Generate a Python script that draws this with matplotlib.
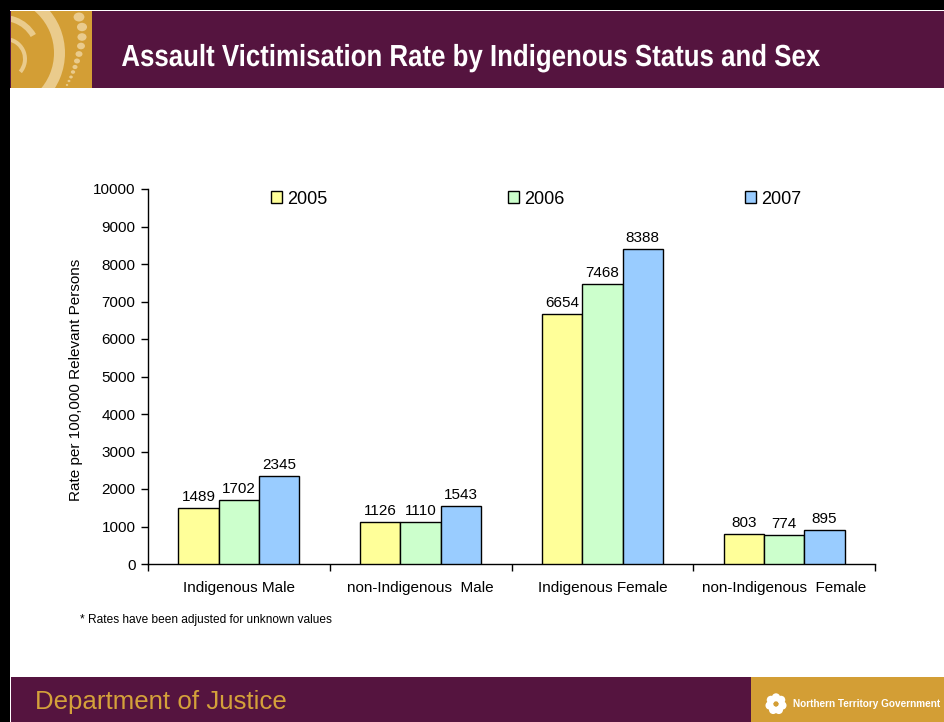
import matplotlib
matplotlib.use("Agg")
import matplotlib.pyplot as plt
import numpy as np
from matplotlib.patches import Rectangle, Wedge, Circle, Ellipse, PathPatch
from matplotlib.textpath import TextPath
from matplotlib.font_manager import FontProperties
from matplotlib.transforms import Affine2D

categories = ["Indigenous Male", "non-Indigenous  Male", "Indigenous Female", "non-Indigenous  Female"]
years = ["2005", "2006", "2007"]
v2005 = [1489, 1126, 6654, 803]
v2006 = [1702, 1110, 7468, 774]
v2007 = [2345, 1543, 8388, 895]
yticks = [0, 1000, 2000, 3000, 4000, 5000, 6000, 7000, 8000, 9000, 10000]
title = "Assault Victimisation Rate by Indigenous Status and Sex"

colors = ["#FFFF99", "#CCFFCC", "#99CCFF"]
PURPLE = "#55143F"
GOLD = "#D39E35"
LIGHT = "#EACB8C"

plt.rcParams['font.family'] = ['Liberation Sans', 'DejaVu Sans']

W, H = 944, 722
fig = plt.figure(figsize=(W / 100, H / 100), dpi=100)
fig.patch.set_facecolor("white")

# full-figure overlay axes in pixel coords (y up)
bg = fig.add_axes([0, 0, 1, 1], zorder=-5)
bg.set_xlim(0, W)
bg.set_ylim(0, H)
bg.axis("off")

def box(x0, y0, x1, y1, color):
    bg.add_patch(Rectangle((x0, H - y1), x1 - x0, y1 - y0, facecolor=color,
                           edgecolor="none", clip_on=False))

box(0, -4, W + 4, 10, "black")
box(-4, -4, 10, H + 4, "black")
box(10, 11, W + 4, 88, PURPLE)
box(11, 677, W + 4, H + 4, PURPLE)
box(751, 677, W + 4, H + 4, GOLD)

# title as a horizontally condensed text path
tp = TextPath((0, 0), title, size=30.5, prop=FontProperties(family="Liberation Sans", weight="bold"))
ext = tp.get_extents()
sx = (820 - 122) / ext.width
tr = Affine2D().translate(-ext.x0, 0).scale(sx, 1.0).translate(122, H - 66)
bg.add_patch(PathPatch(tr.transform_path(tp), facecolor="white", edgecolor="none"))

# header logo
lax = fig.add_axes([11 / W, 1 - 88 / H, 81 / W, 77 / H], zorder=-4)
lax.set_xlim(0, 81)
lax.set_ylim(77, 0)
lax.axis("off")
lax.add_patch(Rectangle((0, 0), 81, 77, facecolor=GOLD, edgecolor="none"))
lax.add_patch(Wedge((-12, 42), 66, 0, 360, width=11, facecolor=LIGHT, edgecolor="none"))
lax.add_patch(Wedge((-8, 42), 38, 250, 330, width=6, facecolor=LIGHT, edgecolor="none"))
lax.add_patch(Wedge((-6, 48), 22, 280, 40, width=4, facecolor=LIGHT, edgecolor="none"))
dots = [(68, 6, 4.5), (71, 16, 4.2), (71, 26, 3.8), (70, 35, 3.3), (68, 43, 2.9),
        (66, 50, 2.5), (64, 56, 2.1), (62, 61, 1.8), (60, 66, 1.5), (58, 70, 1.2), (56, 74, 1.0)]
for x, y, r in dots:
    lax.add_patch(Ellipse((x, y), 2 * r * 1.2, 2 * r, facecolor=LIGHT, edgecolor="none"))

# footer text
fig.text(35 / W, 1 - 702 / H, "Department of Justice", color="#D4A13A",
         fontsize=18.6, ha="left", va="center")
fig.text(793 / W, 1 - 704 / H, "Northern Territory Government", color="white",
         fontsize=7.2, fontweight="bold", ha="left", va="center")
# NT flower
fax = fig.add_axes([764 / W, 1 - 716 / H, 24 / W, 24 / H], zorder=-3)
fax.set_xlim(-12, 12)
fax.set_ylim(-12, 12)
fax.set_aspect("equal")
fax.axis("off")
for k in range(7):
    a = np.pi / 2 + k * 2 * np.pi / 7
    fax.add_patch(Circle((6.5 * np.cos(a), 6.5 * np.sin(a)), 4.2, facecolor="white", edgecolor="none"))
fax.add_patch(Circle((0, 0), 2.5, facecolor=GOLD, edgecolor="none"))

# main chart
ax = fig.add_axes([148 / W, 1 - 564 / H, (875 - 148) / W, (564 - 189) / H])
x = np.arange(len(categories))
bw = 0.222
for i, (vals, lab) in enumerate(zip([v2005, v2006, v2007], years)):
    bars = ax.bar(x + (i - 1) * bw, vals, bw, color=colors[i], edgecolor="black",
                  linewidth=1.0, label=lab, zorder=3)
    ax.bar_label(bars, labels=[str(v) for v in vals], padding=3, fontsize=11)

ax.set_xlim(-0.5, len(categories) - 0.5)
ax.set_ylim(0, 10000)
ax.set_yticks(yticks)
ax.set_yticklabels([str(t) for t in yticks], fontsize=11)
ax.set_xticks(np.arange(len(categories) + 1) - 0.5)
ax.set_xticklabels([])
ax.set_xticks(x, minor=True)
ax.set_xticklabels(categories, minor=True, fontsize=11)
ax.tick_params(axis="x", which="minor", length=0, pad=12)
ax.tick_params(axis="x", which="major", length=5, direction="out", width=1)
ax.tick_params(axis="y", length=5, direction="out", width=1, pad=4)
for s in ["top", "right"]:
    ax.spines[s].set_visible(False)
for s in ["left", "bottom"]:
    ax.spines[s].set_linewidth(1.0)
ax.set_ylabel("Rate per 100,000 Relevant Persons", fontsize=11)
ax.yaxis.set_label_coords(-0.09, 0.49)

leg = ax.legend(ncol=3, loc="center", bbox_to_anchor=(536 / W, 1 - 199 / H),
                bbox_transform=fig.transFigure, frameon=False, fontsize=13,
                handlelength=0.6, handleheight=0.6, handletextpad=0.3,
                columnspacing=10.0)

fig.text(80 / W, 1 - 620 / H, "* Rates have been adjusted for unknown values",
         fontsize=8.6, ha="left", va="center")

fig.savefig("out.png", dpi=100)
